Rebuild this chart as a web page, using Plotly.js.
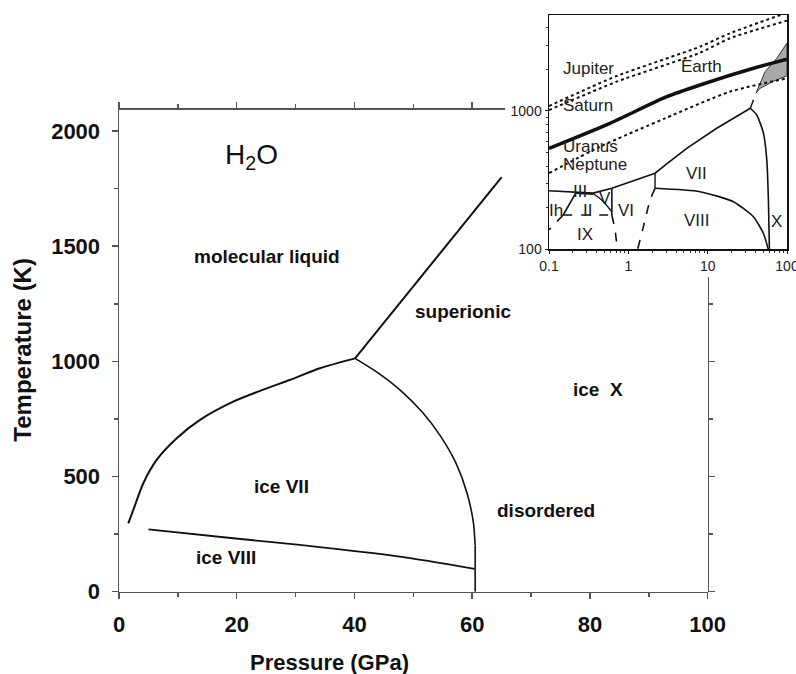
<!DOCTYPE html>
<html>
<head>
<meta charset="utf-8">
<script src="https://cdn.plot.ly/plotly-3.0.1.min.js"></script>
<style>html,body{margin:0;padding:0;background:#fff;}#chart{width:796px;height:674px;}</style>
</head>
<body>
<div id="chart"></div>
<script>
// ---------- main diagram (linear axes) ----------
const meltP = [1.58, 2.43, 4.13, 6.4, 9.8, 13.76, 19.4, 25.1, 29.0, 34.1, 40.1];
const meltT = [297, 355, 471, 572, 666, 746, 825, 883, 919, 970, 1013];
const superLiqP = [40.1, 65.0];
const superLiqT = [1013, 1800];
const superIceP = [40.1, 44.0, 48.0, 51.5, 54.5, 57.2, 59.1, 60.2, 60.5, 60.5];
const superIceT = [1013, 950, 870, 780, 680, 560, 430, 300, 200, 0];
const viiViiiP = [5.0, 19.4, 30.7, 47.7, 60.4];
const viiViiiT = [271, 232, 203, 152, 99];

const mainLabels = ['molecular liquid', 'superionic', 'ice&nbsp;&nbsp;X', 'ice VII', 'disordered', 'ice VIII'];
const mainLabelP = [25.1, 58.5, 81.4, 27.6, 72.5, 18.2];
const mainLabelT = [1455, 1216, 876, 456, 352, 148];
const formulaP = 22.5, formulaT = 1890;

const mainXTicks = [0, 20, 40, 60, 80, 100];
const mainYTicks = [0, 500, 1000, 1500, 2000];

// ---------- inset (log-log) ----------
const jupiterP = [0.1, 0.714, 8.0, 19.1, 100];
const jupiterT = [1087, 1791, 2917, 3648, 5140];
const saturnP = [0.1, 0.714, 8.0, 19.1, 100];
const saturnT = [1016, 1630, 2636, 3356, 4500];
const earthP = [0.1, 0.587, 3.05, 8.0, 37.8, 100];
const earthT = [537, 815, 1268, 1542, 2036, 2366];
const uranusP = [0.1, 0.44, 2.9, 19.1, 100];
const uranusT = [355, 552, 885, 1380, 1722];

const liquidP = [0.1, 0.22, 0.36, 0.62, 2.17, 3.05, 5.45, 13.0, 34.5];
const liquidT = [265, 258, 255, 276, 355, 414, 537, 750, 1047];
const ihIIP = [0.22, 0.151];
const ihIIT = [258, 177];
const ihIXP = [0.151, 0.1];
const ihIXT = [177, 138];
const iiIIIP = [0.22, 0.36];
const iiIIIT = [254, 250];
const iiVP = [0.36, 0.462, 0.62];
const iiVT = [253, 227, 187];
const iiIXP = [0.151, 0.62];
const iiIXT = [177, 177];
const viSolidP = [0.62, 0.62];
const viSolidT = [276, 177];
const viDashP = [0.62, 0.68, 0.726];
const viDashT = [177, 138, 100];
const viViiP = [2.17, 2.17];
const viViiT = [355, 276];
const viViiiP = [2.17, 1.88, 1.55, 1.31];
const viViiiT = [276, 227, 146, 100];
const viiViiiInsetP = [2.17, 8.0, 21.1, 37.7, 50.5, 58.0];
const viiViiiInsetT = [276, 261, 221, 172, 130, 100];
const viiXP = [34.5, 41.6, 50.5, 55.6, 58.3, 60.0];
const viiXT = [1047, 935, 690, 443, 227, 100];
const triDashP = [34.5, 39.6, 40.7];
const triDashT = [1047, 1306, 1343];
const bandUpperP = [40.7, 52.9, 74.3, 100];
const bandUpperT = [1343, 1923, 2404, 3100];
const bandLowerP = [100, 67.4, 45.8, 40.7];
const bandLowerT = [1800, 1640, 1459, 1343];

const insetLabels = ['Jupiter', 'Earth', 'Saturn', 'Uranus', 'Neptune', 'III', 'Ih', 'II', 'V', 'VI', 'IX', 'VII', 'VIII', 'X'];
const insetLabelP = [0.313, 8.4, 0.313, 0.336, 0.38, 0.246, 0.1226, 0.304, 0.508, 0.936, 0.284, 7.28, 7.28, 74.3];
const insetLabelT = [2037, 2089, 1104, 552, 407, 261, 192, 192, 234, 192, 127, 355, 161, 158];

const insetXTicks = [0.1, 1, 10, 100];
const insetXText = ['0.1', '1', '10', '100'];
const insetYTicks = [100, 1000];
const insetYText = ['100', '1000'];

// ---------- geometry of the panels (pixels of the 796x674 figure) ----------
const W = 796, H = 674;
const mainLeft = 119, mainRight = 707.7, mainBottom = 591.7, mainTop = 108;
const xMax = 100, yMax = 2100;
const topBorderEnd = 505;      // main top border hidden behind inset from here
const rightBorderTop = 277;    // main right border hidden behind inset above this
const insetLeft = 549, insetRight = 787, insetBottom = 249.3, insetTop = 15;

const xScale = (mainRight - mainLeft) / xMax;
const yScale = (mainBottom - mainTop) / yMax;

// ---------- build ----------
const FONT = 'Liberation Sans, Arial, Helvetica, sans-serif';
function mainLine(x, y, w, spline) {
  return {type: 'scatter', mode: 'lines', x: x, y: y, xaxis: 'x', yaxis: 'y',
    line: {color: '#111', width: w, shape: spline ? 'spline' : 'linear', smoothing: 0.7},
    hoverinfo: 'skip', showlegend: false};
}
function insetLine(x, y, w, dash, spline) {
  return {type: 'scatter', mode: 'lines', x: x, y: y, xaxis: 'x3', yaxis: 'y3',
    line: {color: '#111', width: w, dash: dash || 'solid', shape: spline ? 'spline' : 'linear', smoothing: 0.6},
    hoverinfo: 'skip', showlegend: false};
}

const traces = [
  mainLine(meltP, meltT, 2, true),
  mainLine(superLiqP, superLiqT, 2, false),
  mainLine(superIceP.slice(0, 9), superIceT.slice(0, 9), 1.6, true),
  mainLine(superIceP.slice(8), superIceT.slice(8), 1.6, false),
  mainLine(viiViiiP, viiViiiT, 1.8, true),
  // holder for the partial top/right borders of the main frame
  {type: 'scatter', mode: 'none', x: [0], y: [0], xaxis: 'x4', yaxis: 'y4', hoverinfo: 'skip', showlegend: false},
  // inset
  {type: 'scatter', mode: 'lines', x: bandUpperP.concat(bandLowerP), y: bandUpperT.concat(bandLowerT),
   xaxis: 'x3', yaxis: 'y3', fill: 'toself', fillcolor: '#a9a9a9', line: {color: '#333', width: 1},
   hoverinfo: 'skip', showlegend: false},
  insetLine(jupiterP, jupiterT, 2, 'dot', true),
  insetLine(saturnP, saturnT, 2, 'dot', true),
  insetLine(uranusP, uranusT, 2, 'dot', true),
  insetLine(earthP, earthT, 3.5, 'solid', true),
  insetLine(liquidP, liquidT, 1.6, 'solid', false),
  insetLine(ihIIP, ihIIT, 1.6, 'solid'),
  insetLine(ihIXP, ihIXT, 1.6, 'dash'),
  insetLine(iiIIIP, iiIIIT, 1.4, 'solid'),
  insetLine(iiVP, iiVT, 1.4, 'solid', true),
  insetLine(iiIXP, iiIXT, 1.6, 'dash'),
  insetLine(viSolidP, viSolidT, 1.6, 'solid'),
  insetLine(viDashP, viDashT, 1.6, 'dash', true),
  insetLine(viViiP, viViiT, 1.4, 'solid'),
  insetLine(viViiiP, viViiiT, 1.6, 'dash', true),
  insetLine(viiViiiInsetP, viiViiiInsetT, 1.6, 'solid', true),
  insetLine(viiXP, viiXT, 1.6, 'solid', true),
  insetLine(triDashP, triDashT, 1.4, 'dash')
];

const annotations = [];
mainLabels.forEach((t, i) => annotations.push({
  x: mainLabelP[i], y: mainLabelT[i], xref: 'x', yref: 'y', text: '<b>' + t + '</b>', showarrow: false,
  font: {family: FONT, size: 19, color: '#111'}
}));
annotations.push({x: formulaP, y: formulaT, xref: 'x', yref: 'y', text: 'H<sub>2</sub>O', showarrow: false,
  font: {family: FONT, size: 28, color: '#111'}});
annotations.push({x: 35.8, y: 0, xref: 'x', yref: 'paper', yanchor: 'middle', yshift: 12,
  text: '<b>Pressure (GPa)</b>', showarrow: false, font: {family: FONT, size: 22, color: '#111'}});
insetLabels.forEach((t, i) => annotations.push({
  x: Math.log10(insetLabelP[i]), y: Math.log10(insetLabelT[i]), xref: 'x3', yref: 'y3', text: t, showarrow: false,
  font: {family: FONT, size: 17, color: '#222'}
}));

const AX = '#555';
const mainTickStyle = {ticks: 'outside', ticklen: 6, tickwidth: 1.5, tickcolor: AX,
  showline: true, linecolor: AX, linewidth: 1.5, showgrid: false, zeroline: false};

const layout = {
  width: W, height: H,
  margin: {l: 0, r: 0, t: 0, b: 0, pad: 0},
  paper_bgcolor: '#fff', plot_bgcolor: 'rgba(0,0,0,0)',
  showlegend: false,
  xaxis: Object.assign({domain: [mainLeft / W, mainRight / W], range: [0, xMax], anchor: 'y',
    tickvals: mainXTicks, ticklabelstandoff: 6,
    minor: {dtick: 10, ticks: 'outside', ticklen: 4, tickwidth: 1.5, tickcolor: AX, showgrid: false},
    tickfont: {family: FONT, size: 22, color: '#111', weight: 'bold'}}, mainTickStyle),
  yaxis: Object.assign({domain: [1 - mainBottom / H, 1 - mainTop / H], range: [0, yMax], anchor: 'x',
    tickvals: mainYTicks, ticklabelstandoff: 7,
    minor: {dtick: 250, ticks: 'outside', ticklen: 4, tickwidth: 1.5, tickcolor: AX, showgrid: false},
    tickfont: {family: FONT, size: 22, color: '#111', weight: 'bold'},
    title: {text: '<b>Temperature (K)</b>', font: {family: FONT, size: 24, color: '#111'}, standoff: 12}}, mainTickStyle),
  // partial top border (same scale as main x axis)
  xaxis4: Object.assign({domain: [mainLeft / W, topBorderEnd / W], range: [0, (topBorderEnd - mainLeft) / xScale],
    anchor: 'free', position: 1 - mainTop / H, side: 'top', dtick: 20, showticklabels: false,
    minor: {dtick: 10, ticks: 'outside', ticklen: 4, tickwidth: 1.5, tickcolor: AX, showgrid: false}}, mainTickStyle),
  // partial right border (same scale as main y axis)
  yaxis4: Object.assign({domain: [1 - mainBottom / H, 1 - rightBorderTop / H], range: [0, (mainBottom - rightBorderTop) / yScale],
    anchor: 'free', position: mainRight / W, side: 'right', dtick: 500, showticklabels: false,
    minor: {dtick: 250, ticks: 'outside', ticklen: 4, tickwidth: 1.5, tickcolor: AX, showgrid: false}}, mainTickStyle),
  xaxis3: {domain: [insetLeft / W, insetRight / W], type: 'log', range: [-1, 2], anchor: 'y3',
    tickvals: insetXTicks, ticktext: insetXText, ticks: 'outside', ticklen: 3, tickcolor: '#111',
    showline: true, linecolor: '#111', linewidth: 1.5, mirror: true, showgrid: false, zeroline: false,
    ticklabeloverflow: 'allow',
    minor: {dtick: 'D1', ticks: 'outside', ticklen: 2, tickcolor: '#333', showgrid: false},
    tickfont: {family: FONT, size: 14, color: '#222'}},
  yaxis3: {domain: [1 - insetBottom / H, 1 - insetTop / H], type: 'log', range: [2, 3.694], anchor: 'x3',
    tickvals: insetYTicks, ticktext: insetYText, ticks: 'outside', ticklen: 3, tickcolor: '#111',
    showline: true, linecolor: '#111', linewidth: 1.5, mirror: true, showgrid: false, zeroline: false,
    ticklabeloverflow: 'allow',
    minor: {dtick: 'D1', ticks: 'outside', ticklen: 2, tickcolor: '#333', showgrid: false},
    tickfont: {family: FONT, size: 14, color: '#222'}},
  annotations: annotations
};

Plotly.newPlot('chart', traces, layout, {displayModeBar: false, staticPlot: true});
</script>
</body>
</html>
